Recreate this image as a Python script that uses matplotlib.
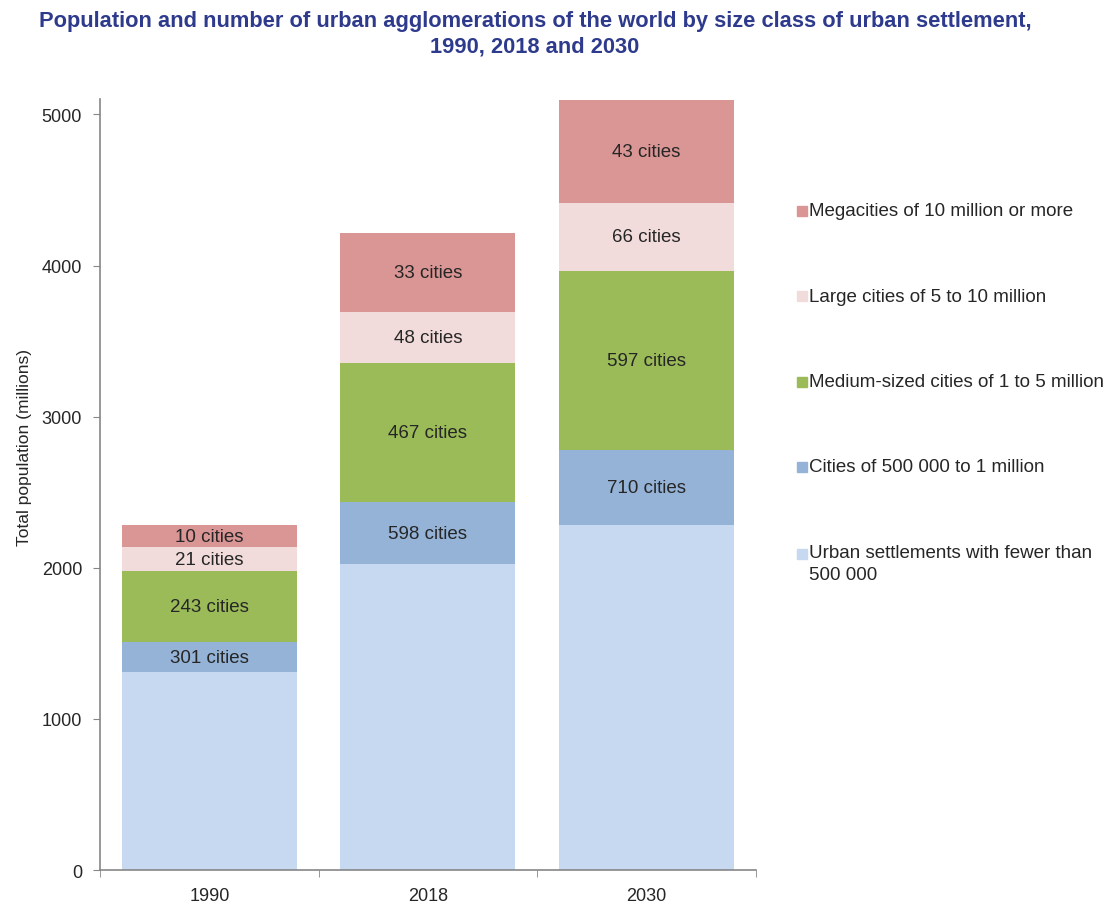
import numpy as np
import matplotlib.pyplot as plt
from matplotlib.patches import Rectangle

plt.rcParams['font.family'] = ['Liberation Sans', 'DejaVu Sans']

years = ['1990', '2018', '2030']
classes = ['Urban settlements with fewer than\n500 000',
           'Cities of 500 000 to 1 million',
           'Medium-sized cities of 1 to 5 million',
           'Large cities of 5 to 10 million',
           'Megacities of 10 million or more']
colors = ['#c6d9f0', '#95b3d7', '#9bbb59', '#f2dcdb', '#d99694']

# population per size class, millions, for 1990 / 2018 / 2030
pop_small = [1310, 2026, 2285]
pop_500k = [196, 407, 496]
pop_medium = [471, 924, 1184]
pop_large = [158, 337, 449]
pop_mega = [150, 522, 683]

# number of cities per class (none drawn for the smallest class)
n_500k = [301, 598, 710]
n_medium = [243, 467, 597]
n_large = [21, 48, 66]
n_mega = [10, 33, 43]

series = [pop_small, pop_500k, pop_medium, pop_large, pop_mega]
counts = [None, n_500k, n_medium, n_large, n_mega]

W, H = 1107, 904
fig = plt.figure(figsize=(W / 100, H / 100), dpi=100)
ax = fig.add_axes([0.0905, 0.0365, 0.592, 0.8525])

x = np.arange(len(years))
bottom = np.zeros(len(years))
for vals, cnt, col in zip(series, counts, colors):
    vals = np.array(vals, dtype=float)
    ax.bar(x, vals, width=0.8, bottom=bottom, color=col, edgecolor='none')
    if cnt is not None:
        for xi, b, v, c in zip(x, bottom, vals, cnt):
            ax.text(xi, b + v / 2, f'{c} cities', ha='center', va='center',
                    fontsize=13.5, color='#262626')
    bottom += vals

ax.set_xlim(-0.5, 2.5)
ax.set_ylim(0, 5100)
ax.set_yticks([0, 1000, 2000, 3000, 4000, 5000])
ax.set_xticks(x)
ax.set_xticklabels(years)
ax.set_xticks([-0.5, 0.5, 1.5, 2.5], minor=True)
ax.tick_params(axis='x', which='major', length=0, pad=12, labelsize=13,
               labelcolor='#262626')
ax.tick_params(axis='x', which='minor', length=5, color='#868686')
ax.tick_params(axis='y', length=5, color='#868686', labelsize=13,
               labelcolor='#262626', pad=8)

for s in ['top', 'right']:
    ax.spines[s].set_visible(False)
for s in ['left', 'bottom']:
    ax.spines[s].set_color('#868686')
    ax.spines[s].set_linewidth(1.2)

ax.set_ylabel('Total population (millions)', fontsize=12.5, color='#262626')
ax.yaxis.set_label_coords(-0.104, 0.55)

# legend drawn by hand: swatch + label, top entry = top segment
leg_y = [212, 297, 383, 468, 555]
for i, (lab, col) in enumerate(zip(classes[::-1], colors[::-1])):
    yf = 1 - leg_y[i] / H
    fig.patches.append(Rectangle((797 / W, yf - 5 / H), 10 / W, 10 / H,
                                 transform=fig.transFigure, color=col))
    if '\n' in lab:
        fig.text(809 / W, yf + 10 / H, lab, ha='left', va='top',
                 fontsize=13.5, color='#262626', linespacing=1.35)
    else:
        fig.text(809 / W, yf, lab, ha='left', va='center',
                 fontsize=13.5, color='#262626')

# title, shrunk so the first line spans about 990 px
t1 = fig.text(535 / W, 1 - 22 / H,
              'Population and number of urban agglomerations of the world by size class of urban settlement,',
              ha='center', va='center', fontsize=16, fontweight='bold',
              color='#2e3a8c')
t2 = fig.text(535 / W, 1 - 47 / H, '1990, 2018 and 2030',
              ha='center', va='center', fontsize=16, fontweight='bold',
              color='#2e3a8c')
r = fig.canvas.get_renderer()
w = t1.get_window_extent(r).width
fs = 16 * 990 / w
t1.set_fontsize(fs)
t2.set_fontsize(fs)

fig.savefig('out.png', dpi=100, facecolor='white')
